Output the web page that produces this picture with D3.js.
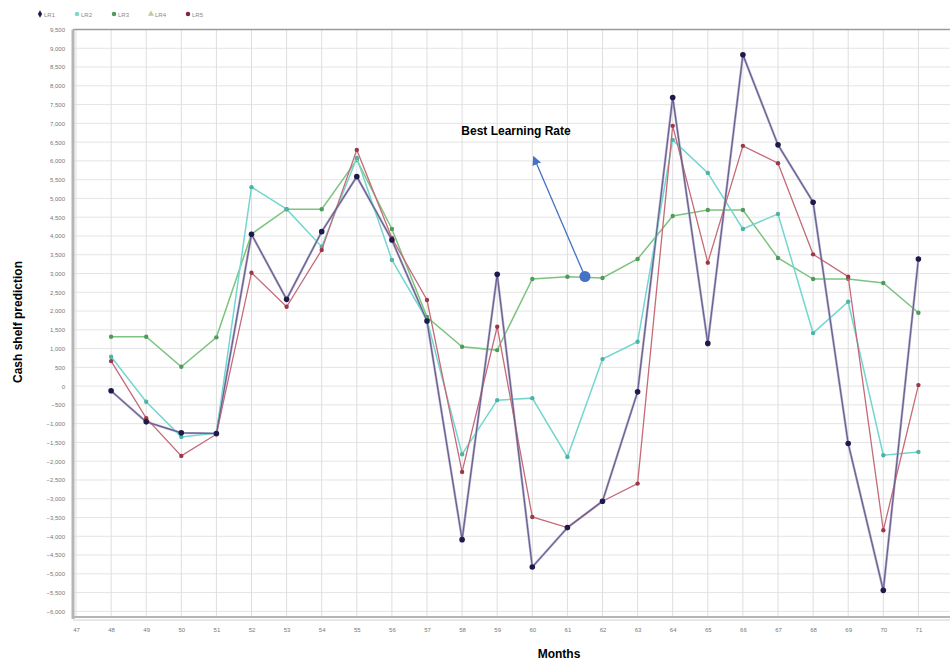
<!DOCTYPE html>
<html lang="en">
  <head>
    <meta charset="utf-8">
    <title>Cash shelf prediction</title>
    <script src="https://cdn.jsdelivr.net/npm/d3@7"></script>
    <style>
      body { margin: 0; background: #fff; }
      .axis text { font-family: "Liberation Sans", Arial, sans-serif; font-size: 6px; fill: #777; }
      .axis path, .axis line { stroke: none; }
      .title { font-family: "Liberation Sans", Arial, sans-serif; font-weight: bold; font-size: 12px; fill: #000; }
    </style>
  </head>
  <body>
    <script>
      // months on the x axis
      var months = [48,49,50,51,52,53,54,55,56,57,58,59,60,61,62,63,64,65,66,67,68,69,70,71];
      var xTicks = d3.range(47, 72);
      var xGrid = d3.range(47, 73);
      var yTicks = d3.range(-6000, 9501, 500);
      var seriesNames = ["LR1", "LR2", "LR3", "LR4", "LR5"];

      var lr1 = [-125,-952,-1245,-1262,4045,2312,4115,5580,3893,1733,-4090,2978,-4818,-3769,-3067,-152,7690,1138,8827,6427,4899,-1529,-5440,3387];
      var lr2 = [781,-418,-1352,-1253,5300,4713,3715,6080,3360,1760,-1813,-373,-320,-1885,720,1182,6560,5680,4187,4587,1413,2248,-1840,-1752];
      var lr3 = [1315,1315,515,1300,4053,4713,4713,6027,4187,1840,1050,960,2853,2915,2880,3387,4533,4693,4693,3413,2853,2853,2747,1955];
      var lr4 = [-125,-952,-1245,-1262,4045,2312,4115,5580,3893,1733,-4090,2978,-4818,-3769,-3067,-152,7690,1138,8827,6427,4899,-1529,-5440,3387];
      var lr5 = [667,-853,-1858,-1280,3022,2115,3627,6293,3947,2293,-2285,1582,-3485,-3769,-3067,-2596,6933,3289,6400,5938,3511,2916,-3840,27];

      var w = 950, h = 663;
      var plotL = 73, plotT = 29.5, plotB = 617, plotR = 950;

      var svg = d3.select("body").append("svg")
        .attr("width", w)
        .attr("height", h);

      var xScale = d3.scaleLinear().domain([47, 72]).range([76, 953.5]);
      var yScale = d3.scaleLinear().domain([-6150, 9500]).range([plotB, plotT]);

      // grid
      svg.append("g").selectAll("line")
        .data(yTicks).enter().append("line")
        .attr("x1", plotL).attr("x2", plotR)
        .attr("y1", function(d) { return yScale(d); })
        .attr("y2", function(d) { return yScale(d); })
        .attr("stroke", "#e4e4e4").attr("stroke-width", 1);
      svg.append("g").selectAll("line")
        .data(xGrid).enter().append("line")
        .attr("x1", function(d) { return xScale(d); })
        .attr("x2", function(d) { return xScale(d); })
        .attr("y1", plotT).attr("y2", plotB)
        .attr("stroke", "#dedede").attr("stroke-width", 1);

      // frame
      svg.append("line").attr("x1", plotL).attr("x2", plotR).attr("y1", plotT).attr("y2", plotT)
        .attr("stroke", "#9a9a9a").attr("stroke-width", 1.5);
      svg.append("line").attr("x1", plotL).attr("x2", plotL).attr("y1", plotT).attr("y2", plotB + 2)
        .attr("stroke", "#b5b5b5").attr("stroke-width", 3);
      svg.append("line").attr("x1", plotL).attr("x2", plotR).attr("y1", plotB).attr("y2", plotB)
        .attr("stroke", "#b5b5b5").attr("stroke-width", 2);
      svg.append("line").attr("x1", plotL).attr("x2", plotR).attr("y1", plotB + 3).attr("y2", plotB + 3)
        .attr("stroke", "#d0d0d0").attr("stroke-width", 1);

      var fmt = d3.format(",");
      svg.append("g")
        .attr("class", "axis")
        .attr("transform", "translate(" + (plotL - 2) + ",0)")
        .call(d3.axisLeft(yScale).tickValues(yTicks).tickFormat(fmt).tickSize(3));
      svg.append("g")
        .attr("class", "axis")
        .attr("transform", "translate(0," + (plotB + 8) + ")")
        .call(d3.axisBottom(xScale).tickValues(xTicks).tickFormat(d3.format("d")).tickSize(0));

      var series = [
        { name: "LR4", values: lr4, line: "#b3abcc", dot: "#8a80a8", width: 2.4 },
        { name: "LR3", values: lr3, line: "#7cc47e", dot: "#4f9a5c", width: 1.5 },
        { name: "LR2", values: lr2, line: "#74d6cf", dot: "#4fb2a6", width: 1.5 },
        { name: "LR5", values: lr5, line: "#c56a78", dot: "#9a3848", width: 1.3 },
        { name: "LR1", values: lr1, line: "#655d8c", dot: "#1c1c4c", width: 1.1 }
      ];

      var line = d3.line()
        .x(function(d, i) { return xScale(months[i]); })
        .y(function(d) { return yScale(d); });

      series.forEach(function(s) {
        svg.append("path")
          .datum(s.values)
          .attr("d", line)
          .attr("fill", "none")
          .attr("stroke", s.line)
          .attr("stroke-width", s.width);
        svg.append("g").selectAll("circle")
          .data(s.values).enter().append("circle")
          .attr("cx", function(d, i) { return xScale(months[i]); })
          .attr("cy", function(d) { return yScale(d); })
          .attr("r", s.name == "LR1" ? 2.8 : 2.2)
          .attr("fill", s.dot);
      });

      // legend
      var legendColors = { LR1: "#1c1c4c", LR2: "#7fd8c8", LR3: "#4f9a5c", LR4: "#c9c79a", LR5: "#7a2a3a" };
      var lg = svg.append("g").attr("transform", "translate(37,14)");
      var lx = 0;
      seriesNames.forEach(function(n) {
        var type = n == "LR4" ? d3.symbolTriangle : (n == "LR1" ? d3.symbolDiamond : d3.symbolCircle);
        lg.append("path").attr("d", d3.symbol().type(type).size(16)())
          .attr("transform", "translate(" + (lx + 3) + ",0)").attr("fill", legendColors[n]);
        lg.append("text").attr("x", lx + 7).attr("y", 2.5)
          .style("font-family", "Liberation Sans, Arial, sans-serif").style("font-size", "6px").style("fill", "#888")
          .text(n);
        lx += 37;
      });

      // annotation
      svg.append("defs").append("marker")
        .attr("id", "arrow").attr("viewBox", "0 0 10 10").attr("refX", 5).attr("refY", 5)
        .attr("markerWidth", 7).attr("markerHeight", 7).attr("orient", "auto-start-reverse")
        .append("path").attr("d", "M0,0 L10,5 L0,10 z").attr("fill", "#4472c4");
      svg.append("line")
        .attr("x1", xScale(61.5)).attr("y1", yScale(2920))
        .attr("x2", 535).attr("y2", 160)
        .attr("stroke", "#4472c4").attr("stroke-width", 1.3)
        .attr("marker-end", "url(#arrow)");
      svg.append("circle").attr("cx", xScale(61.5)).attr("cy", yScale(2920)).attr("r", 5.5).attr("fill", "#4472c4");
      svg.append("text").attr("class", "title").attr("x", 516).attr("y", 135)
        .attr("text-anchor", "middle").text("Best Learning Rate");

      // axis titles
      svg.append("text").attr("class", "title")
        .attr("transform", "translate(22,322) rotate(-90)")
        .attr("text-anchor", "middle").text("Cash shelf prediction");
      svg.append("text").attr("class", "title")
        .attr("x", 559).attr("y", 658).attr("text-anchor", "middle").text("Months");
    </script>
  </body>
</html>
